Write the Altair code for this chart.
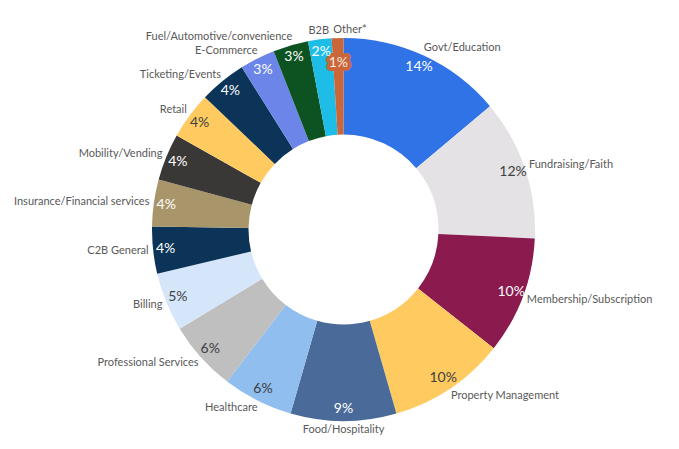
import math
import altair as alt
import pandas as pd

# Share of merchants by segment (%), clockwise from 12 o'clock
categories = [
    "Govt/Education", "Fundraising/Faith", "Membership/Subscription",
    "Property Management", "Food/Hospitality", "Healthcare",
    "Professional Services", "Billing", "C2B General",
    "Insurance/Financial services", "Mobility/Vending", "Retail",
    "Ticketing/Events", "E-Commerce", "Fuel/Automotive/convenience",
    "B2B", "Other*",
]
shares = [14, 12, 10, 10, 9, 6, 6, 5, 4, 4, 4, 4, 4, 3, 3, 2, 1]

palette = [
    "#2F73E6", "#E4E2E4", "#8B1A4F", "#FFCB61", "#4A6A9A", "#8FBEEF",
    "#BFBFBF", "#D6E6FA", "#0C3458", "#A8956A", "#3A3737", "#FFCB61",
    "#0C3458", "#6B86E8", "#0D5321", "#1DBDE8", "#C9673A",
]

FONT = "Lato"
LABEL_GREY = "#595959"
DARK_TEXT = "#404040"
OUTER_R = 191.5
INNER_R = 95


def luminance(hex_colour):
    r, g, b = (int(hex_colour[i:i + 2], 16) / 255 for i in (1, 3, 5))
    return 0.299 * r + 0.587 * g + 0.114 * b


total = sum(shares)
rows = []
running = 0
for cat, val, col in zip(categories, shares, palette):
    start, end = running, running + val
    running = end
    mid = (start + end) / 2
    deg = mid / total * 360
    if cat in ("B2B",) or 175 <= deg <= 185:
        anchor = "center"
    elif deg < 180 or cat == "Other*":
        anchor = "left"
    else:
        anchor = "right"
    rows.append({
        "category": cat,
        "value": val,
        "start": start,
        "end": end,
        "mid": mid,
        "pct": f"{val}%",
        "txt": DARK_TEXT if luminance(col) > 0.6 else "#FFFFFF",
        "anchor": anchor,
        "thin": val < 2,
    })
df = pd.DataFrame(rows)

theta_scale = alt.Scale(domain=[0, total], range=[0, 2 * math.pi])
base = alt.Chart(df)
mid_theta = alt.Theta("mid:Q", scale=theta_scale, stack=False)

donut = base.mark_arc(outerRadius=OUTER_R, innerRadius=INNER_R).encode(
    theta=alt.Theta("start:Q", scale=theta_scale),
    theta2="end:Q",
    color=alt.Color("category:N",
                    scale=alt.Scale(domain=categories, range=palette),
                    legend=None),
)

# the thinnest slice carries its value on a small filled tag, set lower
thin = base.transform_filter(alt.datum.thin == True)  # noqa: E712
tag = thin.mark_text(
    radius=167, font=FONT, fontSize=14, stroke="#C9673A", strokeWidth=8,
    fill="#C9673A", strokeJoin="round", baseline="middle",
).encode(theta=mid_theta, text="pct:N")
thin_value = thin.mark_text(
    radius=167, font=FONT, fontSize=14, baseline="middle", color="#FBE6DA",
).encode(theta=mid_theta, text="pct:N")

values = base.transform_filter(alt.datum.thin == False).mark_text(  # noqa: E712
    radius=179, font=FONT, fontSize=14, align="center", baseline="middle",
).encode(
    theta=mid_theta,
    text="pct:N",
    fill=alt.Fill("txt:N", scale=None),
)


def names(anchor, dx):
    return base.transform_filter(alt.datum.anchor == anchor).mark_text(
        radius=200, font=FONT, fontSize=11, color=LABEL_GREY,
        align=anchor, baseline="middle", dx=dx,
    ).encode(theta=mid_theta, text="category:N")


chart = alt.layer(
    donut, tag, thin_value, values,
    names("left", -4), names("right", 4), names("center", 0),
).properties(
    width=671, height=439,
    padding={"left": 8, "top": 10, "right": 0, "bottom": 0},
    autosize=alt.AutoSizeParams(type="none"),
    background="#FFFFFF",
).configure_view(stroke=None)

chart.save("out.html", embed_options={"renderer": "svg", "actions": False})
